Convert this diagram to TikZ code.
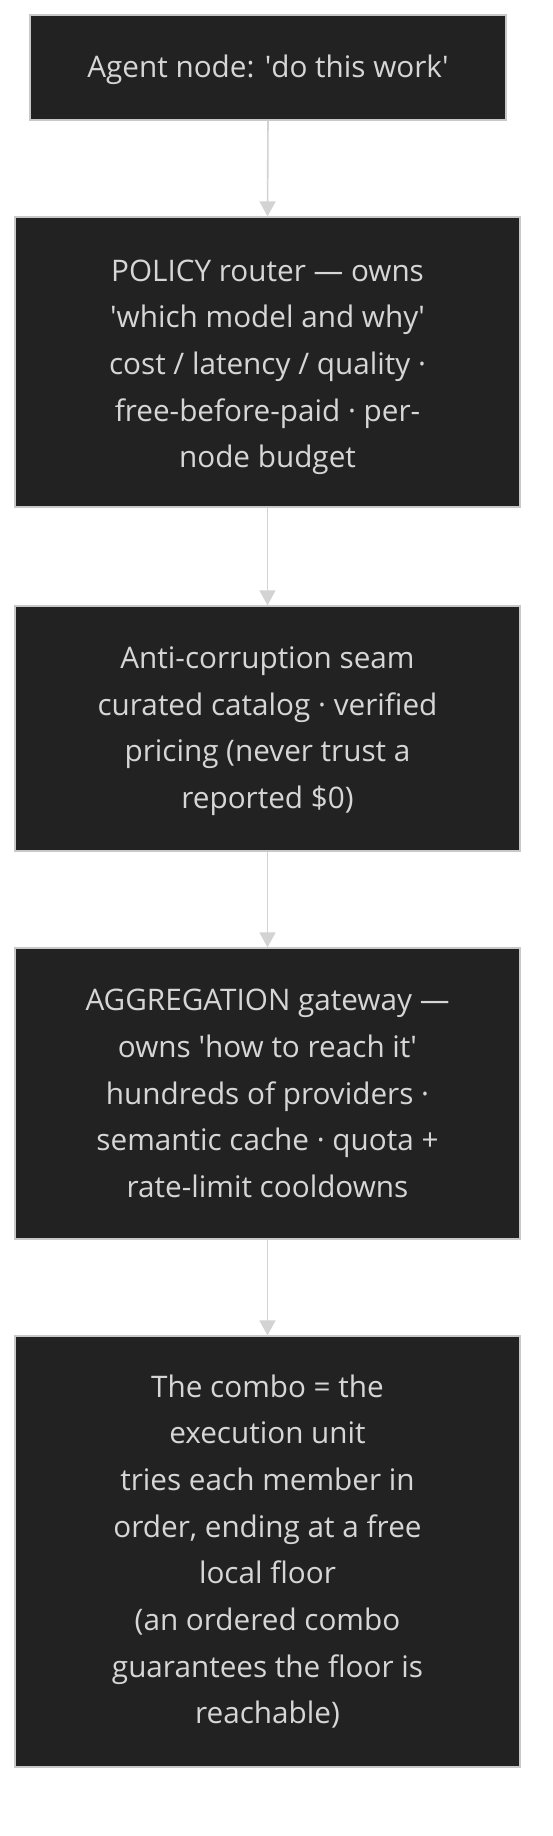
\documentclass[tikz,border=0pt]{standalone}
\usepackage{fontspec}
\setmainfont{Open Sans}
\usetikzlibrary{arrows.meta}
\definecolor{boxfill}{RGB}{33,34,33}
\definecolor{boxline}{RGB}{200,200,200}
\definecolor{boxtext}{RGB}{214,214,214}
\definecolor{linkcol}{RGB}{211,211,211}
\newcommand{\sq}{\textquotesingle}
\newcommand{\lift}[1]{\rule{0pt}{#1}}
\begin{document}
\begin{tikzpicture}[x=1pt,y=-1pt,
  stagebox/.style={draw=boxline, line width=1.3pt, fill=boxfill, text=boxtext,
    rectangle, inner sep=0pt, align=center,
    font=\fontsize{29.7}{46.7}\selectfont},
  link/.style={draw=linkcol, line width=1.6pt, -{Triangle[width=16pt,length=15pt]}}]
\useasboundingbox (0,0) rectangle (552,1836);
\fill[white] (0,0) rectangle (552,1836);
\node[stagebox, minimum width=476pt, minimum height=105pt] (agent) at (268,67.5)
  {\lift{27.5pt}Agent node: \sq do this work\sq};
\node[stagebox, minimum width=505pt, minimum height=290pt] (policy) at (267.5,362)
  {\lift{32pt}POLICY router — owns\\ \sq which model and why\sq\\cost / latency / quality ·\\free-before-paid · per-\\node budget};
\node[stagebox, minimum width=505pt, minimum height=245pt] (seam) at (267.5,728.5)
  {\lift{27pt}Anti-corruption seam\\curated catalog · verified\\pricing (never trust a\\reported \$0)};
\node[stagebox, minimum width=505pt, minimum height=291pt] (gateway) at (267.5,1093.5)
  {AGGREGATION gateway —\\owns \sq how to reach it\sq\\hundreds of providers ·\\semantic cache · quota +\\rate-limit cooldowns};
\node[stagebox, minimum width=505pt, minimum height=431pt] (combo) at (267.5,1551.5)
  {The combo = the\\execution unit\\tries each member in\\order, ending at a free\\local floor\\(an ordered combo\\guarantees the floor is\\reachable)};
\draw[link] (agent.south) -- (policy.north);
\draw[link] (policy.south) -- (seam.north);
\draw[link] (seam.south) -- (gateway.north);
\draw[link] (gateway.south) -- (combo.north);
\end{tikzpicture}
\end{document}
